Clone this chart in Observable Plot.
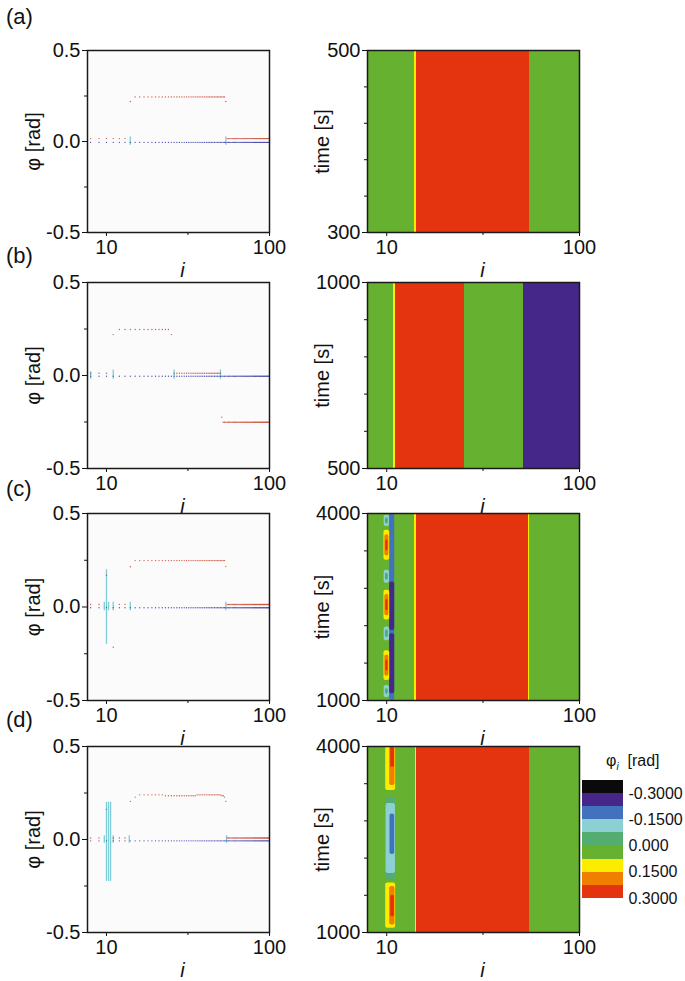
<!DOCTYPE html>
<html><head><meta charset="utf-8">
<script src="https://cdn.jsdelivr.net/npm/d3@7"></script>
<script src="https://cdn.jsdelivr.net/npm/@observablehq/plot@0.6"></script>
<style>
body{margin:0;background:#fff;font-family:"Liberation Sans",Arial,sans-serif;}
#fig{position:relative;width:685px;height:981px;overflow:hidden;background:#fff;}
.plot{position:absolute;}
.plab{position:absolute;font-size:22px;line-height:1;color:#111;}
.ltitle{position:absolute;font-size:16px;color:#111;white-space:nowrap;}
</style></head><body><div id="fig"></div>
<script>
// ---------- axes / ticks ----------
const panelLabels = ["(a)", "(b)", "(c)", "(d)"];
const timeDomains = [[300, 500], [500, 1000], [1000, 4000], [1000, 4000]];
const timeMinor = [[340, 380, 420, 460], [600, 700, 800, 900], [1600, 2200, 2800, 3400], [1600, 2200, 2800, 3400]];
const phiTicks = [-0.5, 0, 0.5];
const phiMinor = [-0.25, 0.25];
const iTicks = [10, 100];
const iMinor = [31.6];

// ---------- colour levels (legend) ----------
const levels = [-0.3, -0.225, -0.15, -0.075, 0, 0.075, 0.15, 0.225];
const levelColors = ["#0a0a0a", "#45278a", "#4271bd", "#8dd0d4", "#54ad70", "#67b130", "#fcec00", "#f07f00", "#e3340f"];
const legendEdges = [-0.375, -0.3, -0.225, -0.15, -0.075, 0, 0.075, 0.15, 0.225, 0.3];
const legendLabelAt = [-0.3, -0.15, 0, 0.15, 0.3];
const legendLabels = ["-0.3000", "-0.1500", "0.000", "0.1500", "0.3000"];

// ---------- left panels: phase of node i (runs: iFrom, iTo, phi) ----------
const redA = [[8, 13, 0.016], [14, 14, 0.22], [15, 53, 0.245], [54, 54, 0.22], [55, 100, 0.016]];
const redB = [[8, 10, 0.012], [11, 11, 0.22], [12, 24, 0.247], [25, 25, 0.22], [26, 50, 0.012], [51, 51, -0.224], [52, 100, -0.251]];
const redC = [[8, 9, 0.013], [10, 10, 0.17], [11, 11, -0.215], [12, 13, 0.014], [14, 14, 0.215], [15, 53, 0.248], [54, 54, 0.216], [55, 100, 0.013]];
const redD = [[8, 9, 0.008], [10, 10, 0.162], [11, 13, 0.008], [14, 14, 0.205], [15, 15, 0.228], [16, 22, 0.24], [23, 35, 0.235], [36, 50, 0.24], [51, 52, 0.235], [53, 53, 0.228], [54, 54, 0.205], [55, 100, 0.008]];
const blueA = [[8, 100, -0.005]];
const blueB = [[8, 100, -0.004]];
const blueC = [[8, 100, -0.004]];
const blueD = [[8, 100, -0.007]];
// range swept by a node: [i, low, high]
const cyanA = [[14, -0.02, 0.025], [54, -0.02, 0.025]];
const cyanB = [[8, -0.02, 0.02], [11, -0.02, 0.03], [26, -0.02, 0.03], [50, -0.02, 0.03]];
const cyanC = [[9.7, -0.02, 0.025], [10, -0.2, 0.2], [10.3, -0.02, 0.025], [11, -0.02, 0.025], [14, -0.02, 0.025], [54, -0.02, 0.025]];
const cyanD = [[9.7, -0.02, 0.02], [10, -0.225, 0.2], [10.3, -0.225, 0.2], [10.6, -0.225, 0.2], [11, -0.02, 0.02], [13.8, -0.02, 0.02], [54.5, -0.02, 0.02]];

// ---------- right panels: phi(i, t) bands (iFrom, iTo, phi) over the whole time window ----------
const bandsA = [[7.9, 13.95, 0.01], [13.95, 14.2, 0.1], [14.2, 54.8, 0.25], [54.8, 55.3, 0.1], [55.3, 101, 0.01]];
const bandsB = [[7.9, 10.9, 0.01], [10.9, 11.1, 0.1], [11.1, 25.2, 0.25], [25.2, 25.45, 0.1], [25.45, 51.0, 0.01], [51.0, 51.25, -0.1], [51.25, 101, -0.25]];
const bandsC = [[7.9, 14.0, 0.01], [14.0, 14.25, 0.1], [14.25, 54.5, 0.25], [54.5, 54.9, 0.1], [54.9, 101, 0.01]];
const bandsD = [[7.9, 14.1, 0.01], [14.1, 14.35, 0.1], [14.35, 54.9, 0.25], [54.9, 55.3, 0.1], [55.3, 101, 0.01]];
// local contour patches (iFrom, iTo, tFrom, tTo, phi), outer level first
const patchesA = [];
const patchesB = [];
const patchesC = [
  [10.36, 11.0, 1000, 4000, -0.18], [10.36, 11.0, 2125, 2900, -0.25], [10.36, 11.0, 1110, 2070, -0.25],
  [9.68, 10.36, 3250, 3730, 0.1], [9.78, 10.26, 3320, 3660, 0.18], [9.88, 10.16, 3400, 3580, 0.25],
  [9.68, 10.36, 2290, 2770, 0.1], [9.78, 10.26, 2360, 2700, 0.18], [9.88, 10.16, 2440, 2620, 0.25],
  [9.68, 10.36, 1320, 1800, 0.1], [9.78, 10.26, 1390, 1730, 0.18], [9.88, 10.16, 1470, 1650, 0.25],
  [9.7, 10.34, 3790, 3970, -0.1], [9.85, 10.2, 3830, 3930, -0.04],
  [9.7, 10.34, 2880, 3090, -0.1], [9.85, 10.2, 2930, 3040, -0.04],
  [9.7, 10.34, 1960, 2180, -0.1], [9.85, 10.2, 2010, 2130, -0.04],
  [9.7, 10.34, 1050, 1240, -0.1], [9.85, 10.2, 1100, 1190, -0.04]
];
const patchesD = [
  [9.88, 11.12, 3290, 4000, 0.1], [10.36, 11.04, 3370, 4000, 0.18], [10.48, 10.98, 3660, 4000, 0.25],
  [9.85, 11.15, 1850, 3180, -0.04], [9.92, 11.1, 1950, 3080, -0.1], [10.4, 11.0, 2260, 2910, -0.18],
  [9.88, 11.12, 1070, 1800, 0.1], [10.36, 11.04, 1120, 1740, 0.18], [10.48, 10.98, 1250, 1600, 0.25]
];

const reds = [redA, redB, redC, redD];
const blues = [blueA, blueB, blueC, blueD];
const cyans = [cyanA, cyanB, cyanC, cyanD];
const bands = [bandsA, bandsB, bandsC, bandsD];
const patches = [patchesA, patchesB, patchesC, patchesD];

// ---------- layout ----------
const frameTop = [50, 282, 513, 746];
const frameBottom = [232, 468, 700, 932];
const labelTop = [6, 245, 478, 709];
const MT = 20, MB = 52;
const font = "Liberation Sans, Arial, sans-serif";

const fig = document.getElementById("fig");
function place(el, left, top) {
  el.classList.add("plot");
  el.style.left = left + "px";
  el.style.top = top + "px";
  fig.appendChild(el);
}
function expand(runs) {
  const out = [];
  for (const [a, b, v] of runs) for (let i = a; i <= b; i++) out.push({i, v});
  return out;
}
const colorScale = {type: "threshold", domain: levels, range: levelColors};

for (let p = 0; p < 4; p++) {
  const fh = frameBottom[p] - frameTop[p];
  // left scatter panel
  const left = Plot.plot({
    width: 300, height: fh + MT + MB,
    marginLeft: 87, marginRight: 31, marginTop: MT, marginBottom: MB,
    style: {fontFamily: font, fontSize: "20px", background: "transparent", color: "#111", overflow: "visible"},
    x: {type: "log", domain: [7.65, 100]},
    y: {domain: [-0.5, 0.5]},
    marks: [
      Plot.frame({fill: "#fbfbfb", stroke: null}),
      Plot.ruleX(cyans[p], {x: d => d[0], y1: d => d[1], y2: d => d[2], stroke: "#7dcdd6", strokeWidth: 1.3}),
      Plot.dot(expand(blues[p]), {x: "i", y: "v", r: 0.65, fill: "#3535a8", fillOpacity: 0.85}),
      Plot.dot(expand(reds[p]), {x: "i", y: "v", r: 0.7, fill: "#c9412d", fillOpacity: 0.85}),
      Plot.axisY({ticks: phiTicks, tickFormat: d => d.toFixed(1), tickSize: 5, tickPadding: 2, label: null}),
      Plot.axisY({ticks: phiMinor, tickFormat: () => "", tickSize: 3, label: null}),
      Plot.axisX({ticks: iTicks, tickFormat: d => String(d), tickSize: 4, tickPadding: 3, label: null}),
      Plot.axisX({ticks: iMinor, tickFormat: () => "", tickSize: 3, label: null}),
      Plot.text(["φ [rad]"], {frameAnchor: "left", dx: -54, rotate: -90, textAnchor: "middle", lineAnchor: "middle", fontSize: 20}),
      Plot.text(["i"], {frameAnchor: "bottom", dx: 4, dy: 38, textAnchor: "middle", lineAnchor: "middle", fontStyle: "italic", fontSize: 20}),
      Plot.frame({stroke: "#1a1a1a", strokeWidth: 1.5})
    ]
  });
  place(left, 0, frameTop[p] - MT);

  // right heat-map panel
  const td = timeDomains[p];
  const right = Plot.plot({
    width: 309, height: fh + MT + MB,
    marginLeft: 77, marginRight: 20, marginTop: MT, marginBottom: MB,
    style: {fontFamily: font, fontSize: "20px", background: "transparent", color: "#111", overflow: "visible"},
    x: {type: "log", domain: [7.95, 100]},
    y: {domain: td},
    color: colorScale,
    marks: [
      Plot.rect(bands[p], {x1: d => d[0], x2: d => d[1], y1: () => td[0], y2: () => td[1], fill: d => d[2], inset: 0, clip: true, shapeRendering: "crispEdges"}),
      Plot.rect(patches[p], {x1: d => d[0], x2: d => d[1], y1: d => d[2], y2: d => d[3], fill: d => d[4], inset: 0, clip: true, rx: 2}),
      Plot.axisY({ticks: td, tickFormat: d => String(d), tickSize: 5, tickPadding: 2, label: null}),
      Plot.axisY({ticks: timeMinor[p], tickFormat: () => "", tickSize: 3, label: null}),
      Plot.axisX({ticks: iTicks, tickFormat: d => String(d), tickSize: 4, tickPadding: 3, label: null}),
      Plot.axisX({ticks: iMinor, tickFormat: () => "", tickSize: 3, label: null}),
      Plot.text(["time [s]"], {frameAnchor: "left", dx: -45, rotate: -90, textAnchor: "middle", lineAnchor: "middle", fontSize: 20}),
      Plot.text(["i"], {frameAnchor: "bottom", dx: 9, dy: 38, textAnchor: "middle", lineAnchor: "middle", fontStyle: "italic", fontSize: 20}),
      Plot.frame({stroke: "#1a1a1a", strokeWidth: 1.5})
    ]
  });
  place(right, 290, frameTop[p] - MT);

  const lab = document.createElement("div");
  lab.className = "plab";
  lab.textContent = panelLabels[p];
  lab.style.left = "6px";
  lab.style.top = labelTop[p] + "px";
  fig.appendChild(lab);
}

// ---------- legend ----------
const swatches = legendEdges.slice(0, -1).map((e, k) => ({y1: e, y2: legendEdges[k + 1], v: (e + legendEdges[k + 1]) / 2}));
const legend = Plot.plot({
  width: 125, height: 118 + 10 + 20,
  marginLeft: 22, marginRight: 62, marginTop: 10, marginBottom: 20,
  style: {fontFamily: font, fontSize: "16px", background: "transparent", color: "#111", overflow: "visible"},
  x: {domain: [0, 1], axis: null},
  y: {domain: [-0.375, 0.3], reverse: true},
  color: colorScale,
  marks: [
    Plot.rect(swatches, {x1: 0, x2: 1, y1: "y1", y2: "y2", fill: "v", inset: 0, shapeRendering: "crispEdges"}),
    Plot.axisY({anchor: "right", ticks: legendLabelAt, tickFormat: (d, k) => legendLabels[k], tickSize: 0, tickPadding: 5, label: null})
  ]
});
place(legend, 560, 770);

const lt = document.createElement("div");
lt.className = "ltitle";
lt.innerHTML = "φ<sub style=\"font-style:italic;font-size:10px\">i</sub>&nbsp;&nbsp;[rad]";
lt.style.left = "606px";
lt.style.top = "752px";
fig.appendChild(lt);
</script></body></html>
